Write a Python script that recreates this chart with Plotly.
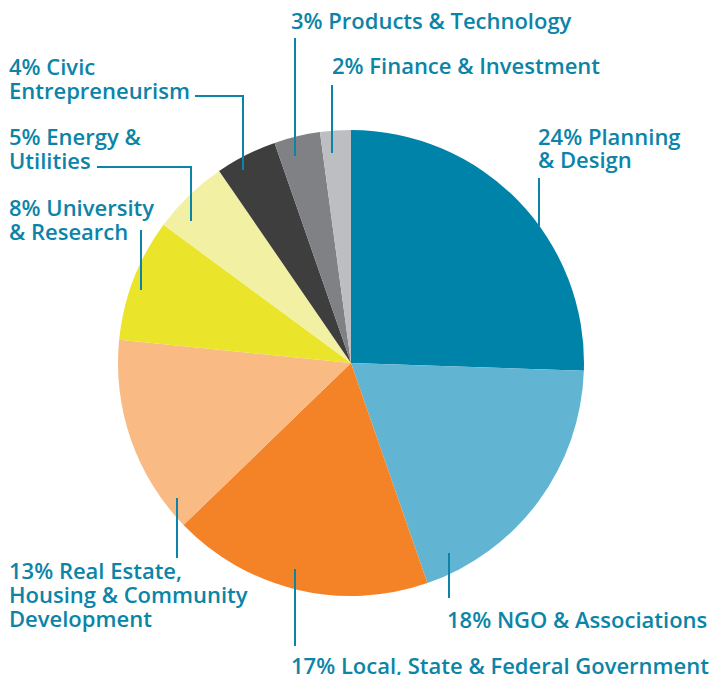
import plotly.graph_objects as go

categories = [
    "Planning & Design",
    "NGO & Associations",
    "Local, State & Federal Government",
    "Real Estate, Housing & Community Development",
    "University & Research",
    "Energy & Utilities",
    "Civic Entrepreneurism",
    "Products & Technology",
    "Finance & Investment",
]
values = [24, 18, 17, 13, 8, 5, 4, 3, 2]
colors = ["#0083A9", "#61B4D2", "#F48226", "#F9BA84", "#EAE52A",
          "#F2F0A2", "#3E3E3F", "#808184", "#BDBEC1"]

# label lines (text, left x px, center y px)
label_lines = [
    ("3% Products & Technology", 290, 19.5),
    ("2% Finance & Investment", 331, 64.5),
    ("4% Civic", 8, 65.5),
    ("Entrepreneurism", 8, 89.5),
    ("5% Energy &", 8, 135.5),
    ("Utilities", 8, 160),
    ("8% University", 8, 207),
    ("& Research", 8, 231),
    ("24% Planning", 537, 135),
    ("& Design", 537, 158.5),
    ("13% Real Estate,", 8, 569.5),
    ("Housing & Community", 8, 593.5),
    ("Development", 8, 617.5),
    ("18% NGO & Associations", 446, 618.5),
    ("17% Local, State & Federal Government", 290, 664),
]

# leader line paths in pixel coords
leaders = [
    [(195, 96), (243, 96), (243, 170)],
    [(97, 167), (191, 167), (191, 221)],
    [(141, 230), (141, 290)],
    [(295, 38), (295, 156)],
    [(332, 85), (332, 153)],
    [(539, 178), (539, 226)],
    [(177, 498), (177, 558)],
    [(295, 569), (295, 646)],
    [(449, 553), (449, 598)],
]

W, H = 709, 675
TEAL = "#0B84A8"

fig = go.Figure(go.Pie(
    labels=categories, values=values, sort=False, direction="clockwise",
    rotation=0, marker=dict(colors=colors, line=dict(width=0)),
    textinfo="none", hoverinfo="label+percent",
    domain=dict(x=[118 / W, 584 / W], y=[1 - 596 / H, 1 - 130 / H]),
    showlegend=False,
))

for txt, x, y in label_lines:
    fig.add_annotation(text=txt, x=x / W, y=1 - (y + 0.5) / H, xref="paper", yref="paper",
                       xanchor="left", yanchor="middle", showarrow=False, borderpad=0,
                       font=dict(family="Open Sans", size=22, color=TEAL, weight=600))

for pts in leaders:
    path = "M " + " L ".join(f"{px / W},{1 - py / H}" for px, py in pts)
    fig.add_shape(type="path", path=path, xref="paper", yref="paper",
                  line=dict(color=TEAL, width=2))

fig.update_layout(width=W, height=H, margin=dict(l=0, r=0, t=0, b=0),
                  paper_bgcolor="white", plot_bgcolor="white")
fig.write_html("out.html", config={"displayModeBar": False},
               post_script="document.body.style.margin='0';document.body.style.padding='0';")
